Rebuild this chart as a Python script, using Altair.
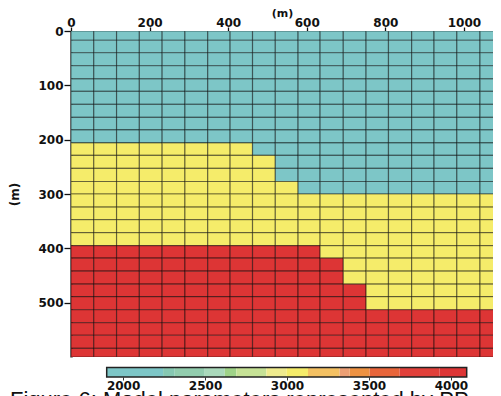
import altair as alt
import pandas as pd

# ---- model grid (metres) ----
X_EDGES = [0, 58, 116, 174, 232, 290, 348, 405, 462, 520, 578, 634, 693,
           751, 808, 867, 924, 982, 1041, 1098]
Y_EDGES = [0, 17, 40, 64, 88, 111, 135, 159, 182, 206, 229, 253, 277, 300,
           324, 347, 371, 395, 418, 442, 466, 489, 513, 537, 560, 584, 600]
# depth of the top of the middle (yellow) layer for each column
TOP_MID = [206, 206, 206, 206, 206, 206, 206, 206, 229, 277,
           300, 300, 300, 300, 300, 300, 300, 300, 300]
# depth of the top of the lower (red) layer for each column
TOP_LOW = [395, 395, 395, 395, 395, 395, 395, 395, 395, 395,
           395, 418, 466, 513, 513, 513, 513, 513, 513]
LAYER_VELOCITY = [2000, 3000, 4000]

# ---- colour bar ----
CB_EDGES = [1900, 2244, 2315, 2498, 2620, 2691, 2874, 2996, 3128, 3321,
            3382, 3504, 3687, 3931, 4096]
CB_COLORS = ["#7dc6c7", "#86c8b2", "#92cdae", "#aad9bb", "#9fd388",
             "#c6e296", "#efeb8e", "#f5ec6a", "#f4c163", "#ec9f74",
             "#ee9242", "#e8653a", "#e1403a", "#dd3535"]
CB_TICKS = [2000, 2500, 3000, 3500, 4000]
X_TICKS = [0, 200, 400, 600, 800, 1000]
Y_TICKS = [0, 100, 200, 300, 400, 500]
CAPTION = ["Figure 6: Model parameters represented by PP"]

rows = []
for i in range(len(X_EDGES) - 1):
    for j in range(len(Y_EDGES) - 1):
        y0, y1 = Y_EDGES[j], Y_EDGES[j + 1]
        if y0 < TOP_MID[i]:
            v = LAYER_VELOCITY[0]
        elif y0 < TOP_LOW[i]:
            v = LAYER_VELOCITY[1]
        else:
            v = LAYER_VELOCITY[2]
        rows.append({"x0": X_EDGES[i], "x1": X_EDGES[i + 1], "y0": y0, "y1": y1, "v": v})
cells_df = pd.DataFrame(rows)

cb_df = pd.DataFrame({
    "lo": CB_EDGES[:-1],
    "hi": CB_EDGES[1:],
    "mid": [(a + b) / 2 for a, b in zip(CB_EDGES[:-1], CB_EDGES[1:])],
})
cb_outline_df = pd.DataFrame({"lo": [CB_EDGES[0]], "hi": [CB_EDGES[-1]]})
caption_df = pd.DataFrame({"t": CAPTION})

color_scale = alt.Scale(type="threshold", domain=CB_EDGES[1:-1], range=CB_COLORS)
FONT = "DejaVu Sans"

cells = alt.Chart(cells_df).mark_rect(
    stroke="#000", strokeOpacity=0.45, strokeWidth=1.2, clip=True
).encode(
    x=alt.X("x0:Q", scale=alt.Scale(domain=[0, 1074], nice=False, zero=False),
            axis=alt.Axis(orient="top", values=X_TICKS, format="d", title="(m)",
                          domain=False, tickSize=4, tickColor="#111", tickWidth=1.3,
                          labelPadding=1, labelBaseline="alphabetic",
                          titleY=-15, titleBaseline="alphabetic", titleFontSize=11,
                          labelFlush=False, grid=False)),
    x2="x1:Q",
    y=alt.Y("y0:Q", scale=alt.Scale(domain=[0, 600], reverse=True, nice=False, zero=False),
            axis=alt.Axis(values=Y_TICKS, format="d", title="(m)", domain=True,
                          domainColor="#333", domainWidth=2.5, tickSize=7,
                          tickColor="#111", tickWidth=1.3, labelPadding=1,
                          titlePadding=16, labelFlush=False, grid=False)),
    y2="y1:Q",
    color=alt.Color("v:Q", scale=color_scale, legend=None),
)

cb_x_scale = alt.Scale(domain=[CB_EDGES[0], CB_EDGES[-1]], range=[35.7, 395.7],
                       nice=False, zero=False)

cbar = alt.Chart(cb_df).mark_rect().encode(
    x=alt.X("lo:Q", scale=cb_x_scale,
            axis=alt.Axis(orient="bottom", values=CB_TICKS, format="d", offset=20,
                          domain=False, tickSize=3, tickColor="#333", labelPadding=0,
                          title=None, labelFlush=False, grid=False)),
    x2="hi:Q",
    y=alt.value(336.5),
    y2=alt.value(346),
    color=alt.Color("mid:Q", scale=color_scale, legend=None),
)

cb_outline = alt.Chart(cb_outline_df).mark_rect(
    fillOpacity=0, stroke="#222", strokeWidth=1.5
).encode(
    x=alt.X("lo:Q", scale=cb_x_scale, axis=None),
    x2="hi:Q",
    y=alt.value(336.5),
    y2=alt.value(346),
)

caption = alt.Chart(caption_df).mark_text(
    align="left", baseline="top", font="Liberation Sans", fontSize=22, color="#111"
).encode(
    x=alt.value(-61),
    y=alt.value(358.5),
    text="t:N",
)

chart = alt.layer(cells, cbar, cb_outline, caption).resolve_scale(
    x="independent"
).properties(
    width=422,
    height=326,
    autosize=alt.AutoSizeParams(type="none"),
    padding={"left": 63, "top": 23, "right": 0, "bottom": 39},
).configure_view(
    stroke=None
).configure_axis(
    labelFont=FONT, labelFontSize=12, labelFontWeight="bold", labelColor="#111",
    titleFont=FONT, titleFontSize=12, titleFontWeight="bold", titleColor="#111",
    labelOverlap=False,
)

chart.save("out.html", embed_options={"renderer": "svg", "actions": False})
